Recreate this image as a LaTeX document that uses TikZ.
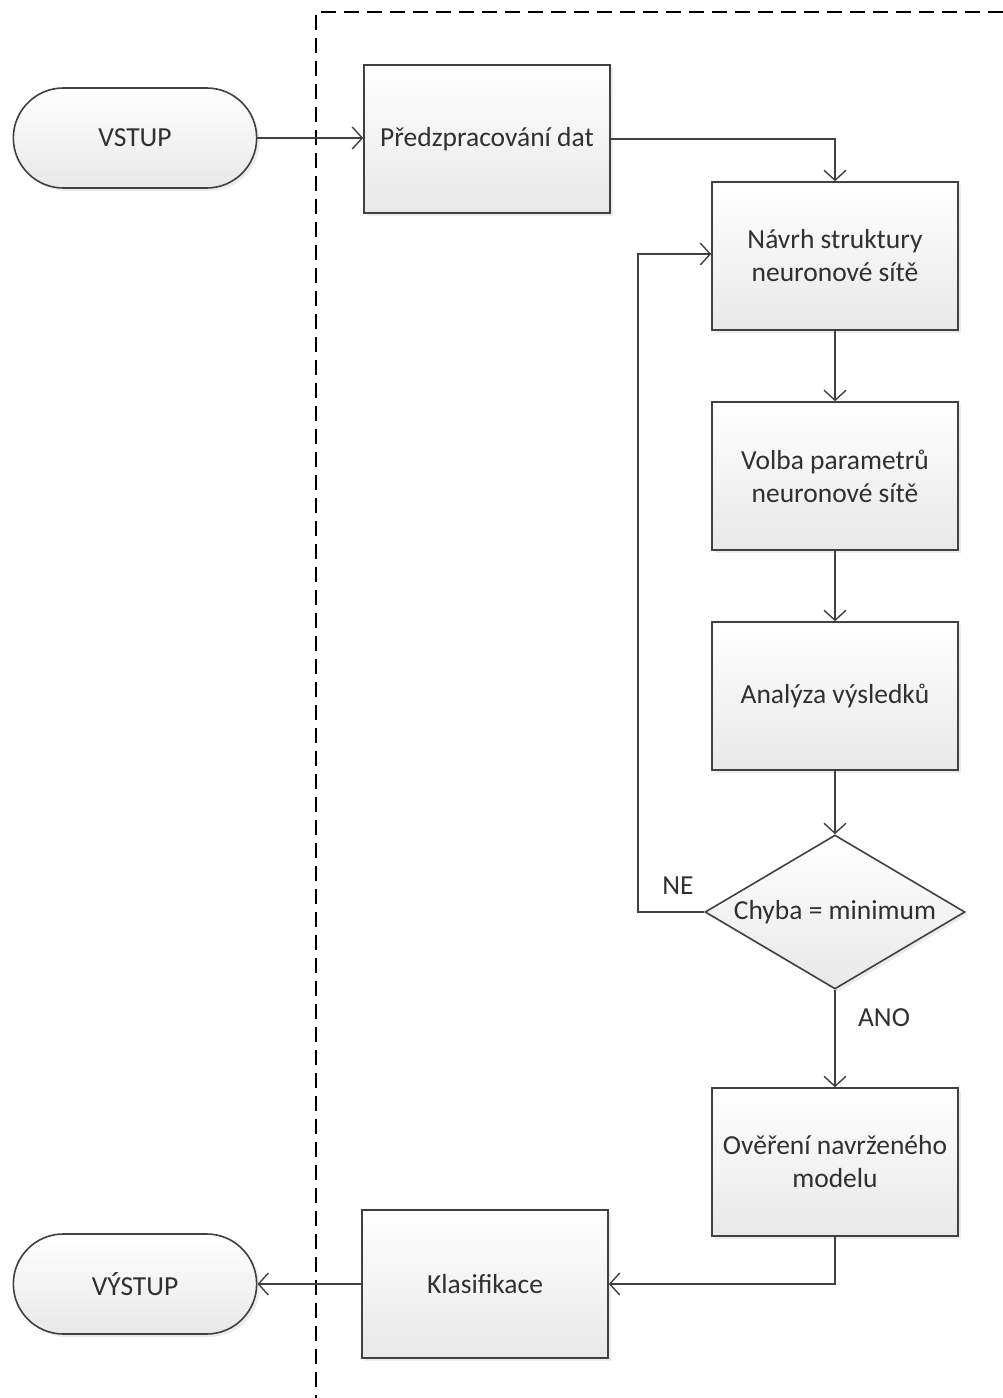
\documentclass[tikz,border=0pt]{standalone}
\usepackage{fontspec}
\setmainfont{Carlito}
\usetikzlibrary{arrows.meta,shapes.misc,shapes.geometric,shadows}

\definecolor{edge}{HTML}{404040}
\definecolor{ink}{HTML}{303030}

\begin{document}
\begin{tikzpicture}[x=1pt,y=-1pt,
  every node/.style={font=\fontsize{27.5}{33}\selectfont, text=ink},
  shade/.style={top color=white, bottom color=black!9,
    drop shadow={opacity=0.15, shadow xshift=3pt, shadow yshift=-3pt}},
  proc/.style={shade, draw=edge, line width=1.6pt, rectangle,
    minimum width=246pt, minimum height=148pt, align=center, inner sep=2pt},
  term/.style={shade, draw=edge, line width=1.6pt, rounded rectangle,
    minimum width=250pt, minimum height=100pt},
  dec/.style={shade, draw=edge, line width=1.6pt, diamond, aspect=1.69,
    inner sep=0pt, minimum width=260pt, minimum height=154pt},
  conn/.style={draw=edge, line width=1.6pt,
    -{Straight Barb[length=10pt,width=22pt,line width=1.4pt]}},
  lbl/.style={inner sep=0pt}
]
\useasboundingbox (0,0) rectangle (1003,1398);

% swimlane border (dashed)
\draw[black, line width=1.8pt, dash pattern=on 15pt off 8pt]
  (1003,12) -- (316,12) -- (316,1398);

% nodes
\node[term] (in) at (135,138) {VSTUP};
\node[proc] (pre) at (487,139) {Předzpracování dat};
\node[proc] (arch) at (835,256) {Návrh struktury\\neuronové sítě};
\node[proc] (par) at (835,476) {Volba parametrů\\neuronové sítě};
\node[proc] (ana) at (835,696) {Analýza výsledků};
\node[dec] (chk) at (835,912) {Chyba = minimum};
\node[proc] (ver) at (835,1162) {Ověření navrženého\\modelu};
\node[proc] (cls) at (485,1284) {Klasifikace};
\node[term] (out) at (135,1284) {VÝSTUP};

\coordinate (loop) at (638,912);

% connectors
\draw[conn] (in.east) -- (pre.west |- in.east);
\draw[conn] (pre.east) -| (arch.north);
\draw[conn] (arch) -- (par);
\draw[conn] (par) -- (ana);
\draw[conn] (ana) -- (chk.north);
\draw[conn] (chk.west) -- (loop) |- ([yshift=2pt]arch.west);
\draw[conn] (chk.south) -- (ver.north);
\draw[conn] (ver.south) |- (cls.east);
\draw[conn] (cls.west) -- (out.east);

% branch labels
\node[lbl] (ne) at (678,886) {NE};
\node[lbl] (ano) at (884,1018) {ANO};
\end{tikzpicture}
\end{document}
